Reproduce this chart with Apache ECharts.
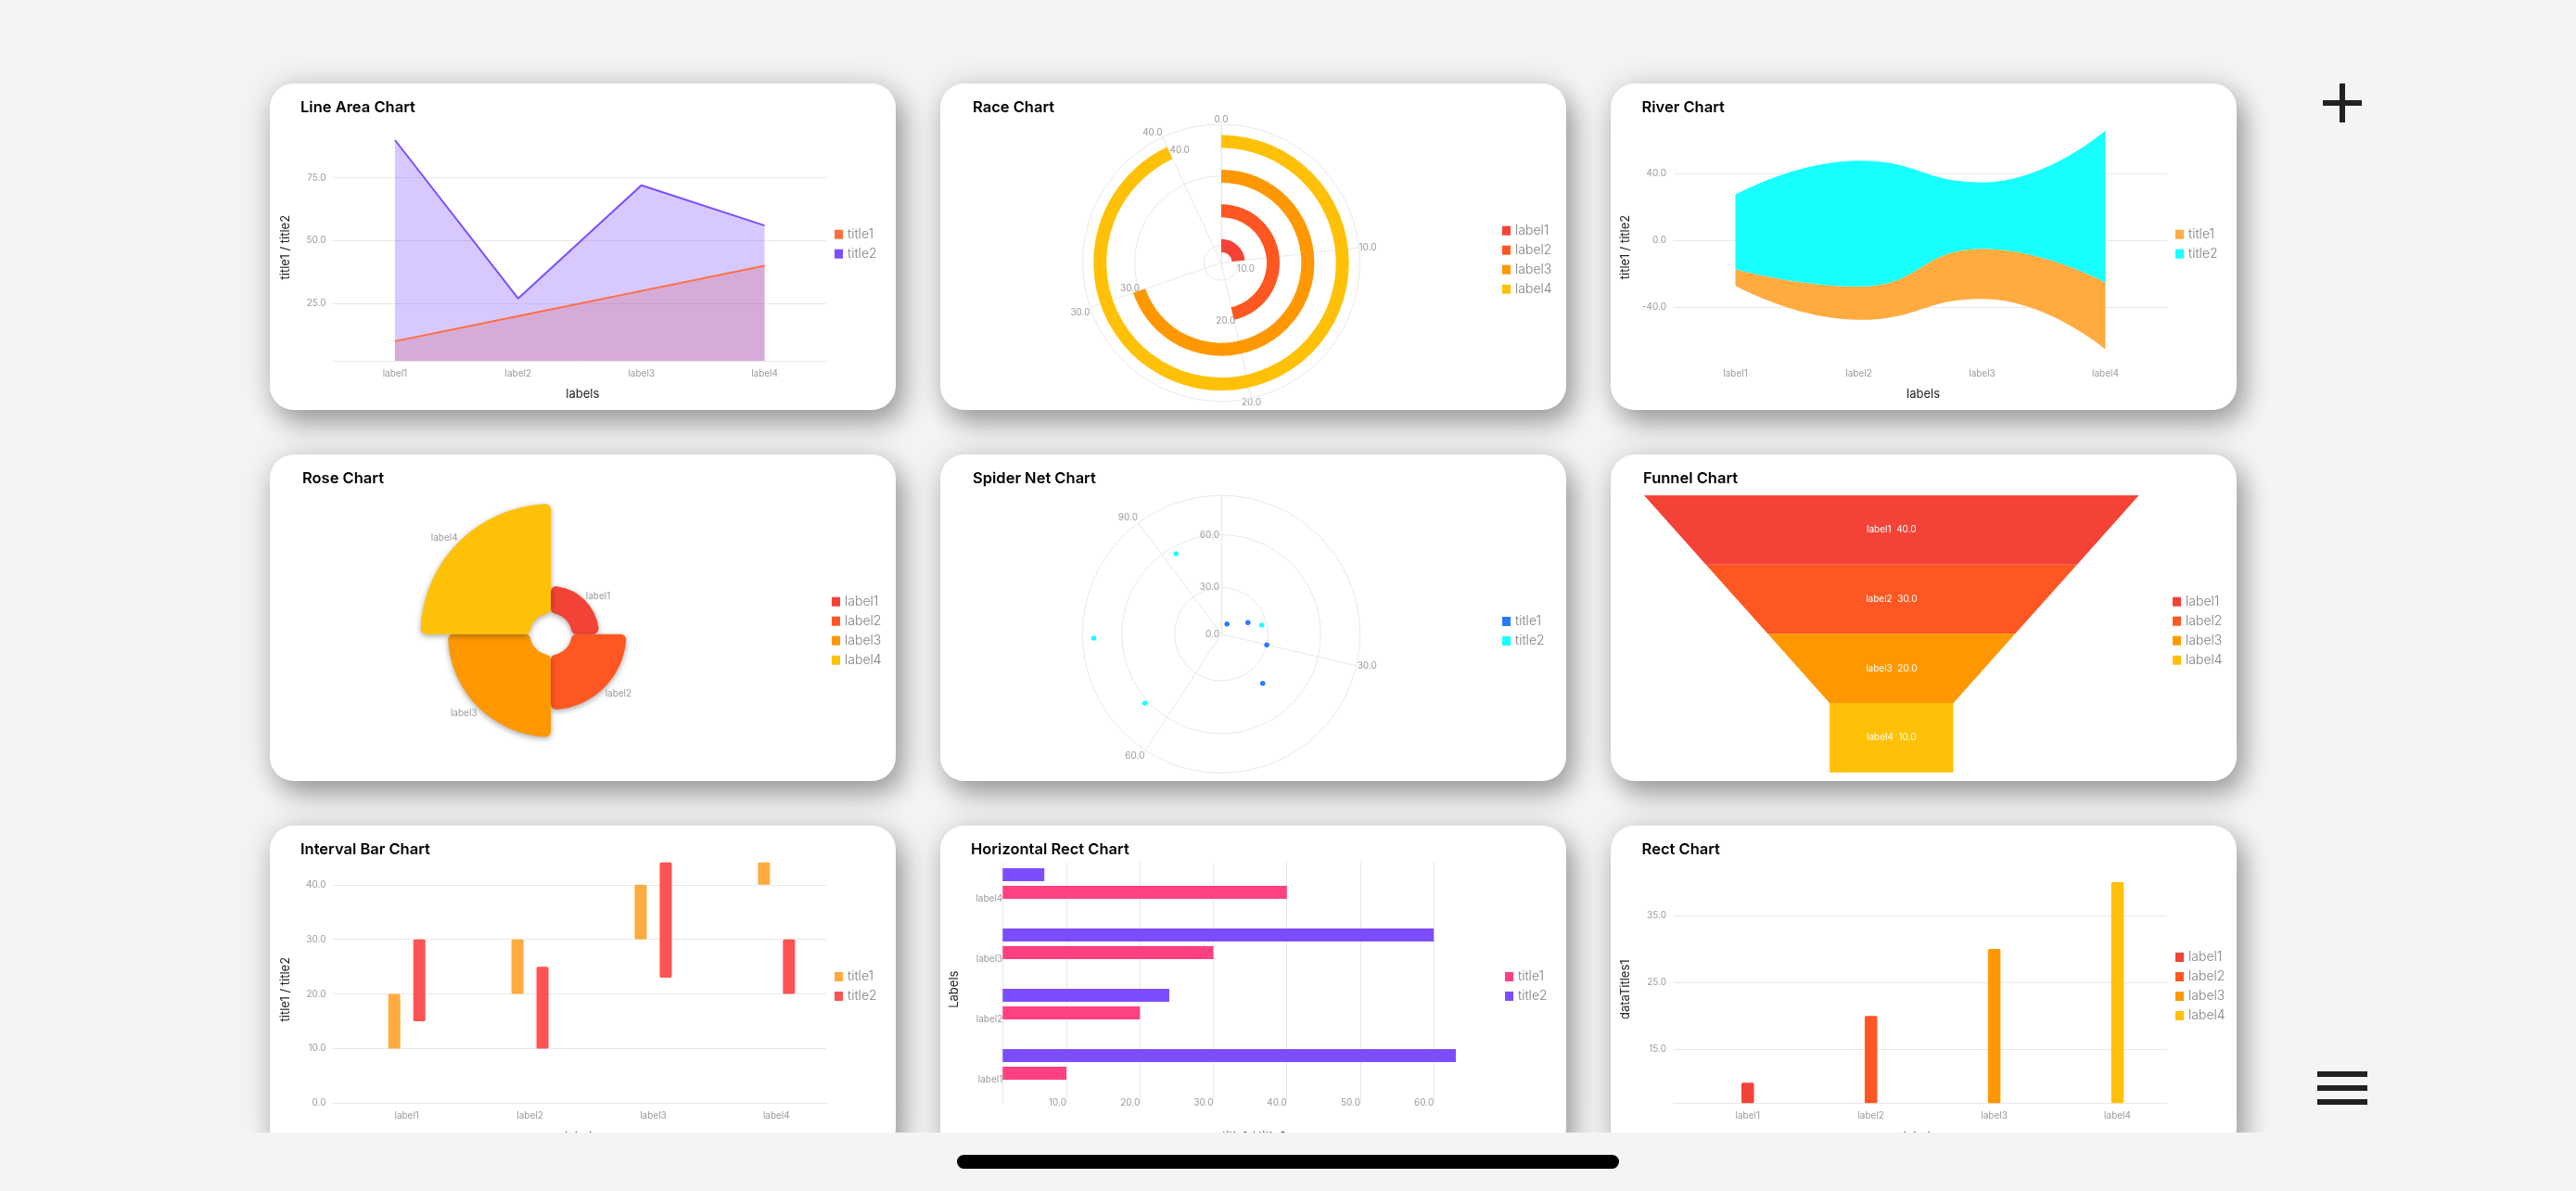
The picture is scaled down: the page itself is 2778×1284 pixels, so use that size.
<!DOCTYPE html>
<html>
<head>
<meta charset="utf-8">
<title>Charts</title>
<script src="https://cdn.jsdelivr.net/npm/echarts@6/dist/echarts.min.js"></script>
<style>
  html, body { margin: 0; width: 2778px; height: 1284px; background: #f4f4f4; overflow: hidden; }
  .card { position: absolute; width: 675px; height: 352px; background: #fff; border-radius: 26px; box-shadow: 8px 14px 28px rgba(0,0,0,.32), 0 0 36px rgba(0,0,0,.14); overflow: hidden; }
  .card > div { width: 675px; height: 352px; }
  .bar { position: absolute; background: #212121; }
  #strip { position: absolute; left: 0; top: 1221px; width: 2778px; height: 63px; background: #f4f4f4; }
  #home { position: absolute; left: 1032px; top: 1245px; width: 714px; height: 15px; border-radius: 8px; background: #000; }
</style>
</head>
<body>
<div class="card" style="left:291px;top:90px"><div id="c1"></div></div>
<div class="card" style="left:1014px;top:90px"><div id="c2"></div></div>
<div class="card" style="left:1737px;top:90px"><div id="c3"></div></div>
<div class="card" style="left:291px;top:490px"><div id="c4"></div></div>
<div class="card" style="left:1014px;top:490px"><div id="c5"></div></div>
<div class="card" style="left:1737px;top:490px"><div id="c6"></div></div>
<div class="card" style="left:291px;top:890px"><div id="c7"></div></div>
<div class="card" style="left:1014px;top:890px"><div id="c8"></div></div>
<div class="card" style="left:1737px;top:890px"><div id="c9"></div></div>
<div id="strip"></div>
<div id="home"></div>
<div class="bar" style="left:2505px;top:108px;width:42px;height:6px"></div>
<div class="bar" style="left:2523px;top:90px;width:6px;height:42px"></div>
<div class="bar" style="left:2499px;top:1155px;width:54px;height:6px"></div>
<div class="bar" style="left:2499px;top:1170px;width:54px;height:6px"></div>
<div class="bar" style="left:2499px;top:1185px;width:54px;height:6px"></div>
<script>
const labels = ['label1', 'label2', 'label3', 'label4'];
const titles = ['title1', 'title2'];
const warmColors = ['#f44336', '#ff5722', '#ff9800', '#ffc107'];

const lineTitle1 = [10, 20, 30, 40];
const lineTitle2 = [90, 27, 72, 56];
const raceValues = [10, 20, 30, 40];
const riverBase = [-27.2, -47.6, -35, -65.2];
const riverTitle1 = [10, 20, 30, 40];
const riverTitle2 = [44.6, 75.4, 39.8, 91.1];
const roseValues = [10, 20, 30, 40];
const spiderTitle1Radius = [10, 20, 30, 40];
const spiderTitle1Angle = [10, 20, 30, 40];
const spiderTitle2Radius = [27, 76, 62, 56];
const spiderTitle2Angle = [23, 75, 64, 92];
const funnelValues = [40, 30, 20, 10];
const intervalTitle1Low = [10, 20, 30, 40];
const intervalTitle1High = [20, 30, 40, 50];
const intervalTitle2Low = [15, 10, 23, 20];
const intervalTitle2High = [30, 25, 45, 30];
const hrectTitle1 = [10, 20, 30, 40];
const hrectTitle2 = [63, 24, 60, 7];
const rectValues = [10, 20, 30, 40];

const font = 'Inter';
const gridColor = '#e8e8e8';
const oneDecimal = (v) => v.toFixed(1);
const labelText = { color: '#9a9a9a', fontSize: 10, fontFamily: font };
const nameText = { color: '#222', fontSize: 13, fontFamily: font };

const title = (text, left) => ({
    text,
    left,
    top: 18,
    padding: 0,
    textStyle: { fontFamily: font, fontSize: 16.5, fontWeight: 600, color: '#000' },
});

// legend is positioned by the centre of its first row
const legend = (names, left, firstCenter) => ({
    data: names,
    orient: 'vertical',
    left,
    top: firstCenter - 8,
    padding: 0,
    icon: 'rect',
    itemWidth: 9,
    itemHeight: 10,
    itemGap: 5,
    selectedMode: false,
    textStyle: { fontFamily: font, fontSize: 14, fontWeight: 300, color: '#808080', lineHeight: 16 },
});

const plotGrid = (left, right, top, bottom) => ({ left, right, top, bottom, outerBoundsMode: 'none' });

// axis names sit at the middle of the card, not of the plot: the padding moves them along the axis
const namePadding = (shift) => (shift > 0 ? [0, shift * 2, 0, 0] : [0, 0, 0, -shift * 2]);

const categoryAxis = (name) => ({
    type: 'category',
    data: labels,
    name,
    nameLocation: 'middle',
    nameGap: 30,
    nameTextStyle: { ...nameText, padding: namePadding(-3) },
    axisLine: { lineStyle: { color: gridColor } },
    axisTick: { show: false },
    axisLabel: { ...labelText, margin: 9 },
});

const valueAxis = (name, min, max, ticks, nameShift = 0) => ({
    type: 'value',
    min,
    max,
    name,
    nameLocation: 'middle',
    nameGap: 45,
    nameTextStyle: { ...nameText, padding: namePadding(nameShift) },
    axisLine: { show: false },
    axisTick: { show: false, customValues: ticks },
    axisLabel: { ...labelText, margin: 8, customValues: ticks, formatter: oneDecimal },
    splitLine: { show: true, lineStyle: { color: gridColor } },
});

// category positions on a value axis, these charts sit off centre from their gridlines
const labelAxis = (name, min, max, margin, nameGap, nameShift = 0) => ({
    type: 'value',
    min,
    max,
    name,
    nameLocation: 'middle',
    nameGap,
    nameTextStyle: { ...nameText, padding: namePadding(nameShift) },
    axisLine: { show: true, onZero: false, lineStyle: { color: gridColor } },
    axisTick: { show: false, customValues: [0, 1, 2, 3] },
    axisLabel: { ...labelText, margin, customValues: [0, 1, 2, 3], formatter: (v) => labels[v] },
    splitLine: { show: false },
});

const columnItem = (offset, width) => (params, api) => {
    const x = api.value(0);
    const low = api.coord([x, api.value(1)]);
    const high = api.coord([x, api.value(2)]);
    const rect = echarts.graphic.clipRectByRect(
        { x: low[0] + offset - width / 2, y: high[1], width, height: low[1] - high[1] },
        params.coordSys
    );
    return rect && { type: 'rect', shape: { ...rect, r: 1.5 }, style: { fill: api.visual('color') } };
};

const render = (id, option) => {
    const chart = echarts.init(document.getElementById(id), null, { renderer: 'canvas' });
    chart.setOption({ animation: false, ...option });
};

// Line Area Chart
render('c1', {
    title: title('Line Area Chart', 33),
    legend: legend(titles, 609, 162.7),
    grid: plotGrid(68.5, 75, 61, 53),
    xAxis: categoryAxis('labels'),
    yAxis: valueAxis('title1 / title2', 2.2, 90, [25, 50, 75], -3.3),
    series: [
        { name: 'title1', type: 'line', data: lineTitle1, showSymbol: false, color: '#ff6e40', lineStyle: { width: 2 }, areaStyle: { opacity: 0.3 } },
        { name: 'title2', type: 'line', data: lineTitle2, showSymbol: false, color: '#7c4dff', lineStyle: { width: 2 }, areaStyle: { opacity: 0.3 } },
    ],
});

// Race Chart
const raceLabelShift = [[-2, 3.5], [-13, 7], [-19, 2], [-4.6, -1]];
render('c2', {
    title: title('Race Chart', 35),
    legend: legend(labels, 606, 158.7),
    polar: { center: [303, 193.3], radius: 149.4 },
    angleAxis: {
        type: 'value',
        min: 0,
        max: 43,
        startAngle: 90,
        clockwise: true,
        axisLine: { lineStyle: { color: gridColor } },
        axisTick: { show: false, customValues: [0, 10, 20, 30, 40] },
        axisLabel: { ...labelText, margin: 0, customValues: [0, 10, 20, 30, 40], formatter: oneDecimal },
        splitLine: { show: true, lineStyle: { color: gridColor } },
    },
    radiusAxis: {
        type: 'category',
        data: labels,
        axisLine: { lineStyle: { color: gridColor } },
        axisTick: { show: false, alignWithLabel: true },
        axisLabel: { show: false },
        splitLine: { show: true, lineStyle: { color: gridColor } },
    },
    series: labels.map((name, i) => ({
        name,
        type: 'bar',
        coordinateSystem: 'polar',
        stack: 'race',
        barWidth: 14,
        color: warmColors[i],
        data: labels.map((l, j) => (j === i ? raceValues[i] : null)),
        label: { show: true, position: 'end', rotate: 0, ...labelText, formatter: (p) => oneDecimal(p.value) },
        labelLayout: { dx: raceLabelShift[i][0], dy: raceLabelShift[i][1] },
    })),
});

// River Chart
render('c3', {
    title: title('River Chart', 33.5),
    legend: legend(titles, 609, 162.7),
    grid: plotGrid(68, 75, 50.6, 53),
    xAxis: categoryAxis('labels'),
    yAxis: valueAxis('title1 / title2', -72.2, 66, [-40, 0, 40], 1.7),
    series: [
        { name: 'base', type: 'line', stack: 'river', stackStrategy: 'all', data: riverBase, smooth: 0.5, showSymbol: false, lineStyle: { opacity: 0 } },
        { name: 'title1', type: 'line', stack: 'river', stackStrategy: 'all', data: riverTitle1, smooth: 0.5, showSymbol: false, color: '#ffab40', lineStyle: { width: 0 }, areaStyle: { opacity: 1 } },
        { name: 'title2', type: 'line', stack: 'river', stackStrategy: 'all', data: riverTitle2, smooth: 0.5, showSymbol: false, color: '#18ffff', lineStyle: { width: 0 }, areaStyle: { opacity: 1 } },
    ],
});

// Rose Chart
const roseInner = 22.5;
const roseOuter = 140.5;
const roseMax = Math.max(...roseValues);
render('c4', {
    title: title('Rose Chart', 35),
    legend: legend(labels, 606, 158.7),
    color: warmColors,
    series: [{
        type: 'pie',
        roseType: 'area',
        center: [303, 193.7],
        radius: [roseInner, roseOuter],
        startAngle: 90,
        avoidLabelOverlap: false,
        itemStyle: { borderRadius: 6, shadowBlur: 6, shadowOffsetY: 2, shadowColor: 'rgba(0,0,0,.35)' },
        label: { ...labelText, position: 'outside', distanceToLabelLine: 1 },
        labelLine: { show: false, length: 0, length2: 0 },
        // the library puts all outside labels on the largest radius, pull them back to their own slice
        labelLayout: (p) => {
            const i = p.dataIndex;
            const inward = (1 - roseValues[i] / roseMax) * (roseOuter - roseInner) * Math.SQRT1_2;
            const sx = i < 2 ? 1 : -1;
            const sy = i === 0 || i === 3 ? -1 : 1;
            return { dx: -sx * inward, dy: sy * (5.5 - inward) + 1.5 };
        },
        data: labels.map((name, i) => ({ name, value: roseValues[i] })),
    }],
});

// Spider Net Chart
render('c5', {
    title: title('Spider Net Chart', 35),
    legend: legend(titles, 606, 180),
    polar: { center: [303, 193.7], radius: 149.6 },
    angleAxis: {
        type: 'value',
        min: 1.9,
        max: 100,
        startAngle: 90,
        clockwise: true,
        axisLine: { lineStyle: { color: gridColor } },
        axisTick: { show: false, customValues: [30, 60, 90] },
        axisLabel: { ...labelText, margin: 1, customValues: [30, 60, 90], formatter: oneDecimal },
        splitLine: { show: true, lineStyle: { color: gridColor } },
    },
    radiusAxis: {
        type: 'value',
        min: 3.4,
        max: 82.4,
        axisLine: { lineStyle: { color: gridColor } },
        axisTick: { show: false, customValues: [30, 60] },
        axisLabel: { ...labelText, margin: 2, customValues: [3.4, 30, 60], formatter: (v) => (v < 5 ? '0.0' : oneDecimal(v)) },
        splitLine: { show: true, lineStyle: { color: gridColor } },
    },
    series: [
        { name: 'title1', type: 'scatter', coordinateSystem: 'polar', symbolSize: 5.5, color: '#2979ff', itemStyle: { opacity: 1 }, data: spiderTitle1Radius.map((r, i) => [r, spiderTitle1Angle[i]]) },
        { name: 'title2', type: 'scatter', coordinateSystem: 'polar', symbolSize: 5.5, color: '#18ffff', itemStyle: { opacity: 1 }, data: spiderTitle2Radius.map((r, i) => [r, spiderTitle2Angle[i]]) },
    ],
});

// Funnel Chart
render('c6', {
    title: title('Funnel Chart', 35),
    legend: legend(labels, 606, 158.7),
    color: warmColors,
    series: [{
        type: 'funnel',
        left: 36,
        top: 44,
        width: 533.6,
        height: 298.7,
        min: 10,
        max: 40,
        minSize: '25%',
        maxSize: '100%',
        gap: 0,
        label: { position: 'inside', color: '#fff', fontSize: 10, fontFamily: font, formatter: (p) => p.name + '  ' + oneDecimal(p.value) },
        labelLine: { show: false },
        itemStyle: { borderWidth: 0 },
        data: labels.map((name, i) => ({ name, value: funnelValues[i] })),
    }],
});

// Interval Bar Chart
render('c7', {
    title: title('Interval Bar Chart', 33),
    legend: legend(titles, 609, 163),
    grid: plotGrid(68.5, 75, 39.7, 52.7),
    xAxis: labelAxis('labels', -0.596, 3.404, 9, 30, -2),
    yAxis: valueAxis('title1 / title2', 0, 44.1, [0, 10, 20, 30, 40], 7.2),
    series: [
        { name: 'title1', type: 'custom', color: '#ffab40', encode: { x: 0, y: [1, 2] }, renderItem: columnItem(-13.5, 13), data: labels.map((l, i) => [i, intervalTitle1Low[i], intervalTitle1High[i]]) },
        { name: 'title2', type: 'custom', color: '#ff5252', encode: { x: 0, y: [1, 2] }, renderItem: columnItem(13.5, 13), data: labels.map((l, i) => [i, intervalTitle2Low[i], intervalTitle2High[i]]) },
    ],
});

// Horizontal Rect Chart
const hrectMin = 1.33;
const hrectItem = (top, height) => (params, api) => {
    const start = api.coord([hrectMin, api.value(1)]);
    const end = api.coord([api.value(0), api.value(1)]);
    return { type: 'rect', shape: { x: start[0], y: start[1] + top, width: end[0] - start[0], height }, style: { fill: api.visual('color') } };
};
const hrectXAxis = valueAxis('title1 / title2', hrectMin, 63, [10, 20, 30, 40, 50, 60], -27);
render('c8', {
    title: title('Horizontal Rect Chart', 33),
    legend: legend(titles, 609, 163),
    grid: plotGrid(67.3, 119, 39.7, 52.7),
    xAxis: {
        ...hrectXAxis,
        nameGap: 30,
        axisLabel: { ...hrectXAxis.axisLabel, align: 'right', verticalAlign: 'middle', margin: 0, backgroundColor: '#fff' },
    },
    yAxis: labelAxis('Labels', -0.385, 3.609, 0, 46, 7.2),
    series: [
        { name: 'title1', type: 'custom', color: '#ff4081', encode: { x: 0, y: 1 }, renderItem: hrectItem(-14.3, 14), data: labels.map((l, i) => [hrectTitle1[i], i]) },
        { name: 'title2', type: 'custom', color: '#7c4dff', encode: { x: 0, y: 1 }, renderItem: hrectItem(-33.3, 14), data: labels.map((l, i) => [hrectTitle2[i], i]) },
    ],
});

// Rect Chart
render('c9', {
    title: title('Rect Chart', 33.6),
    legend: legend(labels, 609, 142),
    grid: plotGrid(68, 75.3, 61, 52.7),
    xAxis: labelAxis('labels', -0.6, 3.4, 9, 30),
    yAxis: valueAxis('dataTitles1', 6.94, 40, [15, 25, 35], -3.4),
    series: labels.map((name, i) => ({
        name,
        type: 'custom',
        color: warmColors[i],
        encode: { x: 0, y: [1, 2] },
        renderItem: columnItem(0, 13.5),
        data: [[i, 6.94, rectValues[i]]],
    })),
});
</script>
</body>
</html>
